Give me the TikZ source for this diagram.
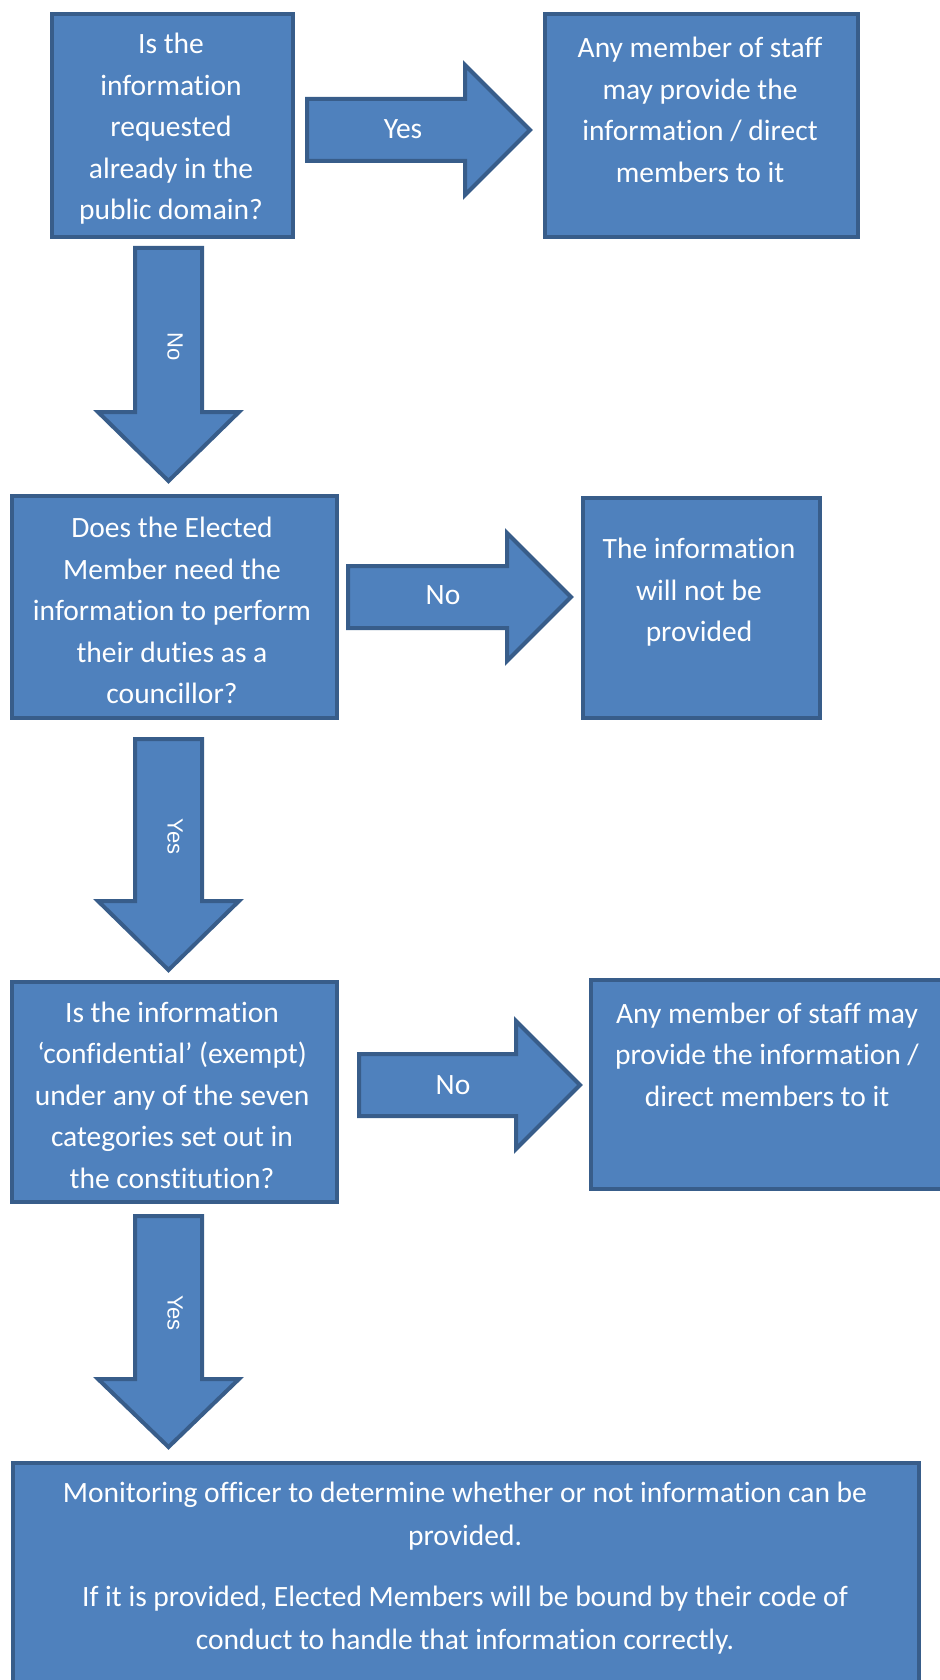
\documentclass[tikz,border=0pt]{standalone}
\usepackage{fontspec}
\setmainfont{Carlito}[Ligatures=CommonOff]
\newfontfamily\arialf{Liberation Sans}
\definecolor{boxfill}{HTML}{4F81BD}
\definecolor{boxline}{HTML}{385D8A}
\begin{document}
\begin{tikzpicture}[x=1pt,y=-1pt,
 box/.style={draw=boxline, fill=boxfill, line width=4pt, rectangle, anchor=north west, inner sep=0pt},
 blockarrow/.style={draw=boxline, fill=boxfill, line width=4pt, line join=miter},
 txt/.style={text=white, font=\fontsize{29.5}{41.5}\selectfont, align=center, inner sep=0pt},
 lab/.style={text=white, font=\fontsize{29.5}{32}\selectfont, inner sep=0pt},
 vlab/.style={text=white, font=\arialf\fontsize{22}{25}\selectfont, rotate=-90, inner sep=0pt}]
\useasboundingbox (0,0) rectangle (939,1680);
% boxes
\node[box, minimum width=241pt, minimum height=223pt] (b1) at (50,12) {};
\node[box, minimum width=313pt, minimum height=223pt] (b2) at (543,12) {};
\node[box, minimum width=325pt, minimum height=222pt] (b3) at (10,494) {};
\node[box, minimum width=237pt, minimum height=220pt] (b4) at (581,496) {};
\node[box, minimum width=325pt, minimum height=220pt] (b5) at (10,980) {};
\node[box, minimum width=380pt, minimum height=209pt] (b6) at (589,978) {};
\node[box, minimum width=906pt, minimum height=240pt] (b7) at (11,1461) {};
% horizontal block arrows
\draw[blockarrow] (307,99) -- (465,99) -- (465,65) -- (530,130) -- (465,195) -- (465,161) -- (307,161) -- cycle;
\draw[blockarrow] (348,566) -- (507,566) -- (507,533) -- (571,597) -- (507,661) -- (507,628) -- (348,628) -- cycle;
\draw[blockarrow] (359,1054) -- (516,1054) -- (516,1021) -- (580,1085) -- (516,1149) -- (516,1116) -- (359,1116) -- cycle;
% vertical block arrows
\draw[blockarrow] (135,248) -- (202,248) -- (202,412) -- (239,412) -- (168.5,481) -- (98,412) -- (135,412) -- cycle;
\draw[blockarrow] (135,739) -- (202,739) -- (202,901) -- (239,901) -- (168.5,970) -- (98,901) -- (135,901) -- cycle;
\draw[blockarrow] (135,1216) -- (202,1216) -- (202,1379) -- (239,1379) -- (168.5,1447) -- (98,1379) -- (135,1379) -- cycle;
% texts
\node[txt] (t1) at (171,129) {Is the\\information\\requested\\already in the\\public domain?};
\node[txt] (t2) at (700,110) {Any member of staff\\may provide the\\information / direct\\members to it};
\node[txt] (t3) at (172,610.5) {Does the Elected\\Member need the\\information to perform\\their duties as a\\councillor?};
\node[txt] (t4) at (699,592.5) {The information\\will not be\\provided};
\node[txt] (t5) at (172,1095) {Is the information\\‘confidential’ (exempt)\\under any of the seven\\categories set out in\\the constitution?};
\node[txt] (t6) at (767,1054.5) {Any member of staff may\\provide the information /\\direct members to it};
\node[txt, font=\fontsize{29.5}{43}\selectfont] (t7) at (465,1568.5) {Monitoring officer to determine whether or not information can be\\provided.\\[18pt]If it is provided, Elected Members will be bound by their code of\\conduct to handle that information correctly.};
% arrow labels
\node[lab] (l1) at (403,129) {Yes};
\node[lab] (l2) at (443,595) {No};
\node[lab] (l3) at (453,1085) {No};
\node[vlab] (l4) at (175,347) {No};
\node[vlab] (l5) at (175,836.5) {Yes};
\node[vlab] (l6) at (175,1313) {Yes};
\end{tikzpicture}
\end{document}
